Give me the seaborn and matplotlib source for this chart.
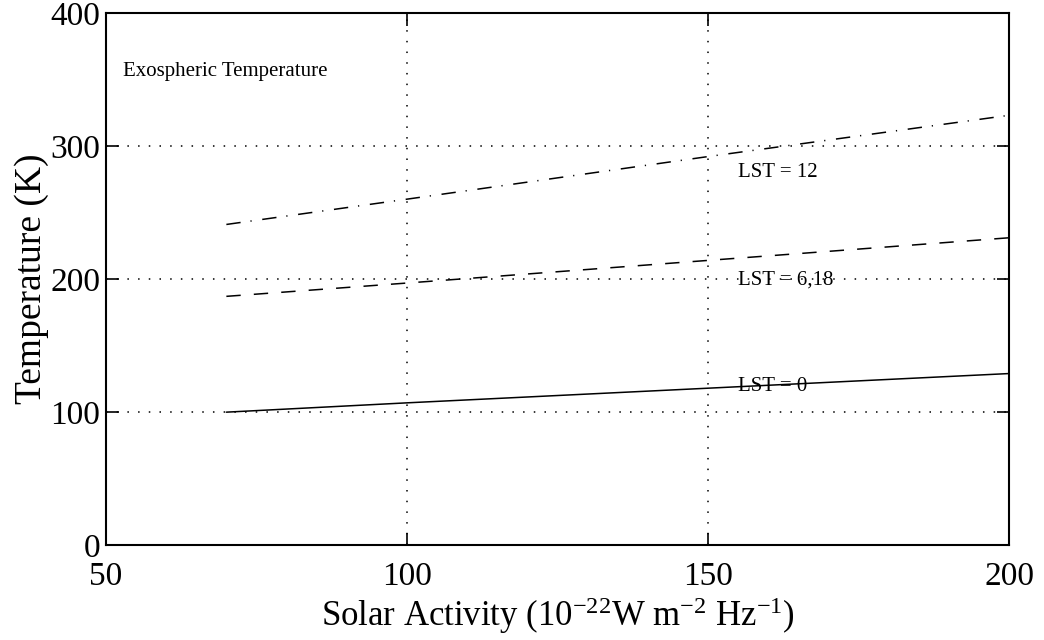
import matplotlib
matplotlib.use("Agg")
import matplotlib.pyplot as plt
import seaborn as sns
import pandas as pd

# Data
solar_activity = [70, 100, 150, 200]
temp_lst0 = [100, 107, 118, 129]
temp_lst6_18 = [187, 197, 214, 231]
temp_lst12 = [241, 260, 292, 323]
series_names = ["LST = 0", "LST = 6,18", "LST = 12"]
x_ticks = [50, 100, 150, 200]
y_ticks = [0, 100, 200, 300, 400]

sns.set_theme(style="white")
plt.rcParams["font.family"] = ["Liberation Serif", "DejaVu Serif"]
plt.rcParams["mathtext.fontset"] = "custom"
plt.rcParams["mathtext.rm"] = "Liberation Serif"
plt.rcParams["mathtext.it"] = "Liberation Serif:italic"
plt.rcParams["mathtext.bf"] = "Liberation Serif:bold"

df = pd.concat([
    pd.DataFrame({"solar": solar_activity, "temp": temp_lst0, "lst": series_names[0]}),
    pd.DataFrame({"solar": solar_activity, "temp": temp_lst6_18, "lst": series_names[1]}),
    pd.DataFrame({"solar": solar_activity, "temp": temp_lst12, "lst": series_names[2]}),
])

fig = plt.figure(figsize=(10.44, 6.4), dpi=100)
ax = fig.add_axes([0.1015, 0.148, 0.865, 0.832])

sns.lineplot(data=df, x="solar", y="temp", style="lst",
             dashes={series_names[0]: "",
                     series_names[1]: (9.4, 8.6),
                     series_names[2]: (9.4, 6.5, 0.8, 7.0)},
             color="black", linewidth=1.1, legend=False, ax=ax, sort=False)

ax.set_xlim(50, 200)
ax.set_ylim(0, 400)
ax.set_xticks(x_ticks)
ax.set_yticks(y_ticks)
ax.set_xticklabels([str(v) for v in x_ticks])
ax.set_yticklabels([str(v) for v in y_ticks])

# dotted grid at interior ticks
for xv in x_ticks[1:-1]:
    ax.axvline(xv, color="black", linestyle=(0, (1, 6)), linewidth=1.1, zorder=0)
for yv in y_ticks[1:-1]:
    ax.axhline(yv, color="black", linestyle=(0, (1, 6)), linewidth=1.1, zorder=0)

for s in ax.spines.values():
    s.set_visible(True)
    s.set_color("black")
    s.set_linewidth(1.5)

ax.tick_params(axis="both", which="major", direction="in", length=9, width=1.2,
               top=True, right=True, bottom=True, left=True,
               labelsize=24, colors="black")
ax.tick_params(axis="x", pad=12)
ax.tick_params(axis="y", pad=4)

ax.set_xlabel(r"Solar Activity (10$^{-22}$W m$^{-2}$ Hz$^{-1}$)", fontsize=25, color="black", labelpad=2)
ax.set_ylabel("Temperature (K)", fontsize=27, color="black", labelpad=1)

ax.text(52.8, 356, "Exospheric Temperature", fontsize=15, va="center", ha="left", color="black")
ax.text(155, 280, series_names[2], fontsize=15, va="center", ha="left", color="black")
ax.text(155, 199, series_names[1], fontsize=15, va="center", ha="left", color="black")
ax.text(155, 119.5, series_names[0], fontsize=15, va="center", ha="left", color="black")

fig.savefig("out.png", dpi=100)
